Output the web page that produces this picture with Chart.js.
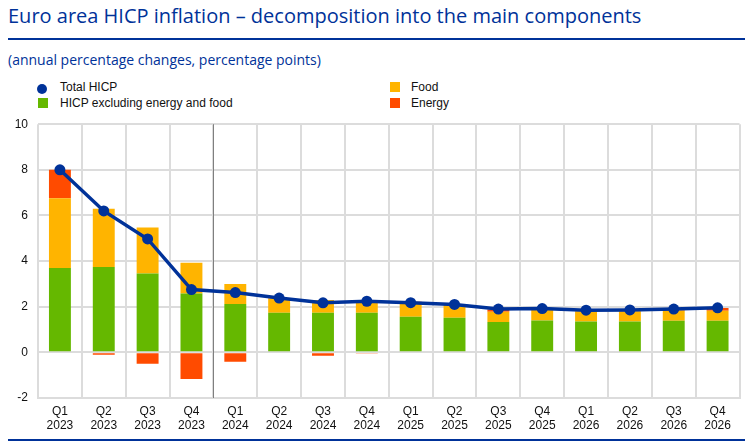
<!DOCTYPE html>
<html>
<head>
<meta charset="utf-8">
<script src="https://cdn.jsdelivr.net/npm/chart.js@4/dist/chart.umd.min.js"></script>
<style>
  body { margin: 0; background: #fff; width: 745px; height: 445px; overflow: hidden; position: relative; font-family: "Open Sans", sans-serif; }
  #title { position: absolute; left: 8px; top: 2px; font-size: 20px; color: #003299; white-space: nowrap; }
  #rule1 { position: absolute; left: 8px; top: 38px; width: 737px; height: 2px; background: #003299; }
  #sub { position: absolute; left: 8px; top: 50px; font-size: 14px; color: #003299; white-space: nowrap; }
  .leg { position: absolute; font-family: Arial, "Liberation Sans", sans-serif; font-size: 12px; color: #111; white-space: nowrap; }
  .sw { position: absolute; width: 10px; height: 10px; }
  #wrap { position: absolute; left: 0; top: 107px; width: 745px; height: 331px; }
  #rule2 { position: absolute; left: 8px; top: 439px; width: 737px; height: 2px; background: #003299; }
</style>
</head>
<body>
<div id="title">Euro area HICP inflation – decomposition into the main components</div>
<div id="rule1"></div>
<div id="sub">(annual percentage changes, percentage points)</div>

<div class="sw" style="left:37px;top:84px;border-radius:50%;background:#003299"></div>
<div class="leg" style="left:60px;top:80px">Total HICP</div>
<div class="sw" style="left:38px;top:98px;background:#65b800"></div>
<div class="leg" style="left:60px;top:96px">HICP excluding energy and food</div>
<div class="sw" style="left:390px;top:82px;background:#ffb400"></div>
<div class="leg" style="left:411px;top:80px">Food</div>
<div class="sw" style="left:390px;top:98px;background:#ff4b00"></div>
<div class="leg" style="left:411px;top:96px">Energy</div>

<div id="wrap"><canvas id="chart"></canvas></div>
<div id="rule2"></div>

<script>
const quarters = ['Q1','Q2','Q3','Q4','Q1','Q2','Q3','Q4','Q1','Q2','Q3','Q4','Q1','Q2','Q3','Q4'];
const years = ['2023','2023','2023','2023','2024','2024','2024','2024','2025','2025','2025','2025','2026','2026','2026','2026'];
const coreValues = [3.70, 3.74, 3.46, 2.58, 2.12, 1.74, 1.74, 1.74, 1.56, 1.52, 1.33, 1.40, 1.35, 1.35, 1.39, 1.39];
const foodValues = [3.06, 2.55, 2.01, 1.35, 0.88, 0.62, 0.56, 0.52, 0.62, 0.56, 0.45, 0.46, 0.45, 0.45, 0.44, 0.43];
const energyValues = [1.24, -0.10, -0.50, -1.17, -0.41, 0.02, -0.15, -0.05, 0.04, 0.02, 0.10, 0.05, 0.05, 0.05, 0.07, 0.12];
const totalValues = [8.0, 6.2, 4.97, 2.75, 2.62, 2.38, 2.17, 2.24, 2.18, 2.1, 1.9, 1.92, 1.85, 1.86, 1.9, 1.95];
const yTicks = [-2, 0, 2, 4, 6, 8, 10];

const labels = quarters.map((q, i) => [q, years[i]]);
const tickFont = { family: 'Arial, "Liberation Sans"', size: 12 };

// dark vertical line between Q4 2023 and Q1 2024
const splitLine = {
    id: 'splitLine',
    beforeDatasetsDraw(chart) {
        const x = chart.scales.x;
        const a = chart.chartArea;
        const px = Math.round((x.getPixelForValue(3) + x.getPixelForValue(4)) / 2) + 0.5;
        const ctx = chart.ctx;
        ctx.save();
        ctx.strokeStyle = '#7f7f7f';
        ctx.lineWidth = 1;
        ctx.beginPath();
        ctx.moveTo(px, a.top);
        ctx.lineTo(px, a.bottom);
        ctx.stroke();
        ctx.restore();
    }
};

const barBase = { barPercentage: 0.5, categoryPercentage: 1, borderWidth: 0, order: 2 };

new Chart(document.getElementById('chart'), {
    type: 'bar',
    data: {
        labels: labels,
        datasets: [
            { type: 'line', label: 'Total HICP', data: totalValues, stack: 'total',
              borderColor: '#003299', backgroundColor: '#003299', borderWidth: 3.5,
              pointRadius: 5.5, pointBackgroundColor: '#003299', pointBorderWidth: 0,
              tension: 0, order: 0 },
            Object.assign({ label: 'HICP excluding energy and food', data: coreValues, backgroundColor: '#65b800', stack: 'bars' }, barBase),
            Object.assign({ label: 'Food', data: foodValues, backgroundColor: '#ffb400', stack: 'bars' }, barBase),
            Object.assign({ label: 'Energy', data: energyValues, backgroundColor: '#ff4b00', stack: 'bars' }, barBase)
        ]
    },
    options: {
        responsive: true,
        maintainAspectRatio: false,
        animation: false,
        layout: { padding: { top: 2, right: 3, left: 0, bottom: 0 } },
        plugins: { legend: { display: false }, tooltip: { enabled: false } },
        scales: {
            x: {
                stacked: true,
                grid: { color: '#dcdcdc', lineWidth: 2, offset: true, drawTicks: false },
                border: { display: true, color: '#dcdcdc', width: 2 },
                ticks: { color: '#111', font: tickFont, padding: 6, maxRotation: 0, autoSkip: false },
                afterFit(s) { s.height = 40; }
            },
            y: {
                stacked: true,
                min: -2, max: 10,
                afterBuildTicks(s) { s.ticks = yTicks.map(v => ({ value: v })); },
                grid: { color: '#dcdcdc', lineWidth: 2, drawTicks: false },
                border: { display: false },
                ticks: { color: '#111', font: tickFont, padding: 10 },
                afterFit(s) { s.width = 38; }
            }
        }
    },
    plugins: [splitLine]
});
</script>
</body>
</html>
